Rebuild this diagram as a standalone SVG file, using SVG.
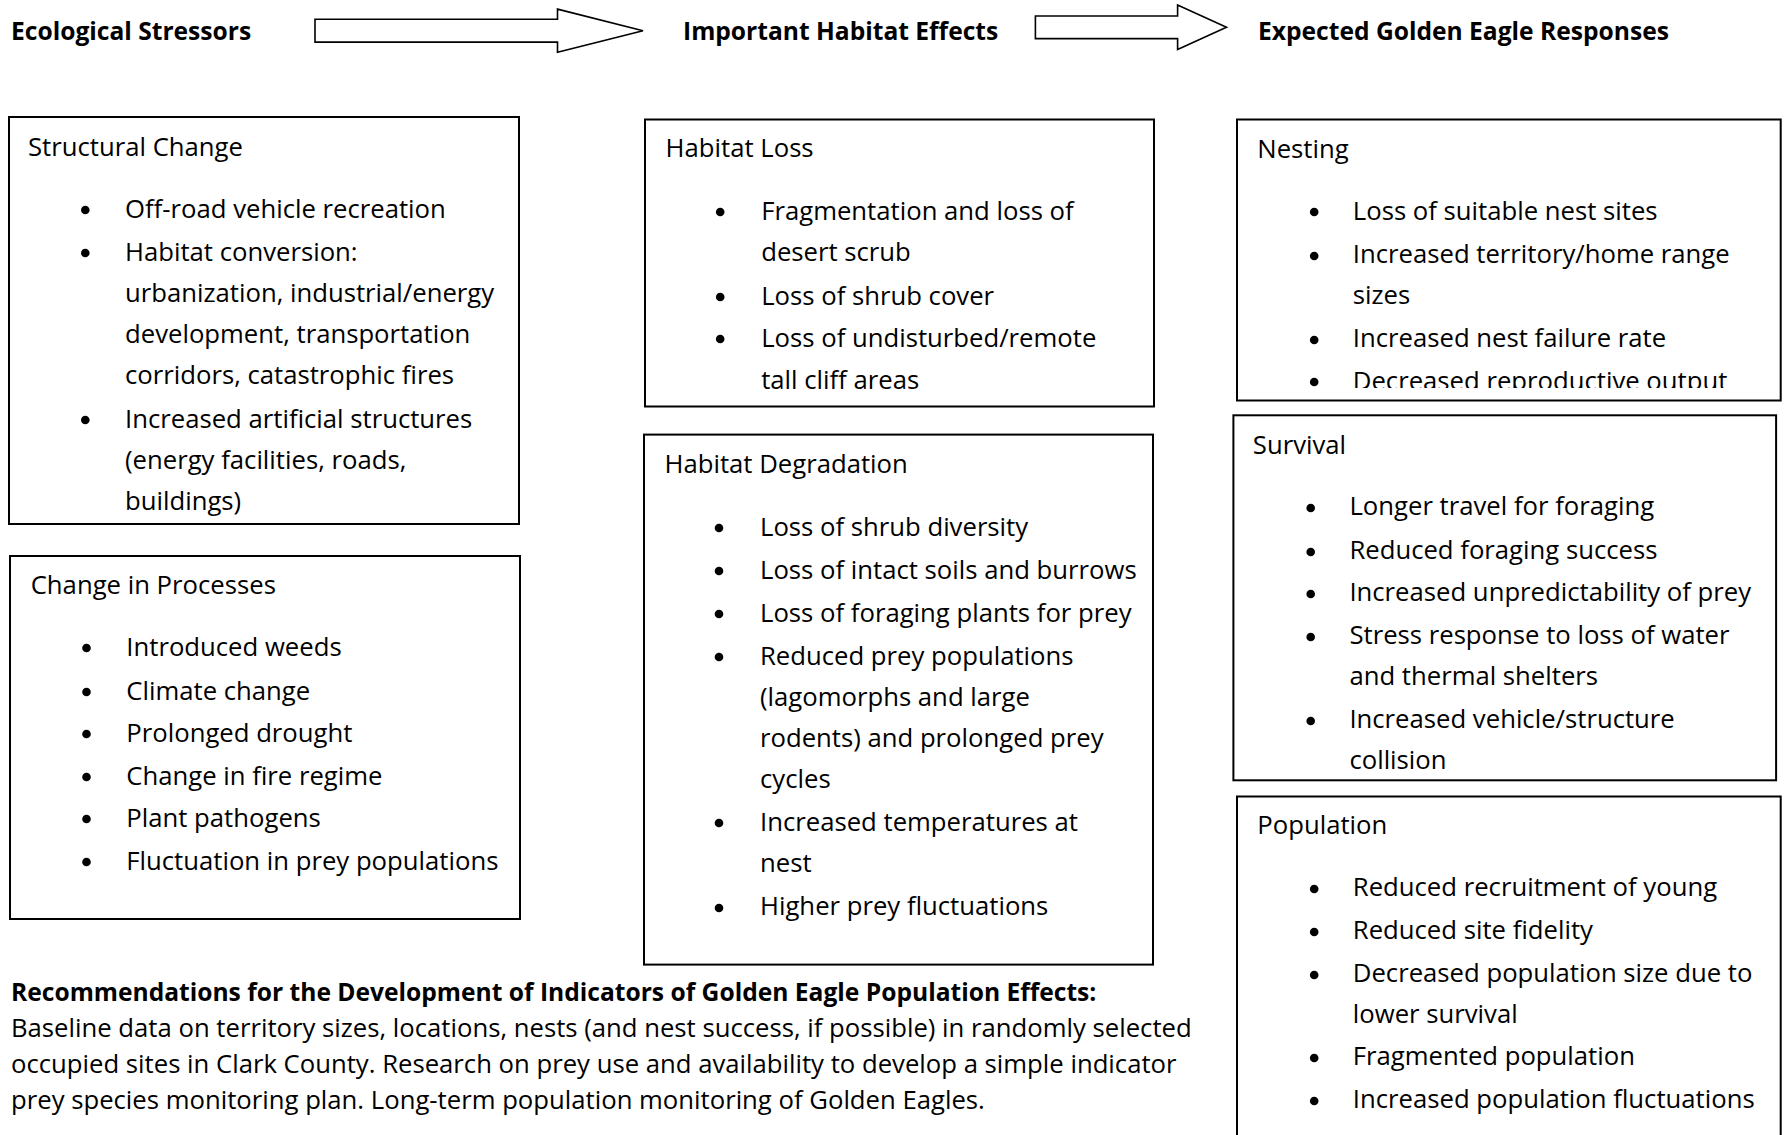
<svg xmlns="http://www.w3.org/2000/svg" width="1784" height="1135" viewBox="0 0 1784 1135">
<style>
.box{fill:#fff;stroke:#000;stroke-width:2}
.t{font-family:"Open Sans","Noto Sans",sans-serif;font-size:25.7px;fill:#000}
.h{font-family:"Open Sans","Noto Sans",sans-serif;font-size:24.6px;font-weight:bold;fill:#000}
.b{fill:#000}
.arrow{fill:#fff;stroke:#000;stroke-width:1.6;stroke-linejoin:miter}
</style>
<defs>
<clipPath id="nestClip"><rect x="1237" y="119" width="544" height="269"/></clipPath>
</defs>
<rect width="1784" height="1135" fill="#fff"/>

<g id="headers">
<text class="h" x="11" y="40">Ecological Stressors</text>
<text class="h" x="683" y="40">Important Habitat Effects</text>
<text class="h" x="1258" y="40">Expected Golden Eagle Responses</text>
</g>

<g id="connectors">
<polygon class="arrow" points="315,19.3 557.5,19.3 557.5,9.1 643,30.7 557.5,52.3 557.5,42.1 315,42.1"/>
<polygon class="arrow" points="1035.4,16 1177.6,16 1177.6,5 1226.5,27.3 1177.6,49.5 1177.6,38.6 1035.4,38.6"/>
</g>

<g id="structural-change">
<rect class="box" x="9" y="117" width="510" height="407"/>
<text class="t" x="28" y="156">Structural Change</text>
<circle class="b" cx="85.3" cy="210" r="4.3"/>
<circle class="b" cx="85.3" cy="253" r="4.3"/>
<circle class="b" cx="85.3" cy="420" r="4.3"/>
<text class="t" x="125" y="218">Off-road vehicle recreation</text>
<text class="t" x="125" y="261">Habitat conversion:</text>
<text class="t" x="125" y="302">urbanization, industrial/energy</text>
<text class="t" x="125" y="343">development, transportation</text>
<text class="t" x="125" y="384">corridors, catastrophic fires</text>
<text class="t" x="125" y="428">Increased artificial structures</text>
<text class="t" x="125" y="469">(energy facilities, roads,</text>
<text class="t" x="125" y="510">buildings)</text>
</g>

<g id="change-in-processes">
<rect class="box" x="10" y="556" width="510" height="363"/>
<text class="t" x="30.7" y="594">Change in Processes</text>
<circle class="b" cx="86.5" cy="648" r="4.3"/>
<circle class="b" cx="86.5" cy="692" r="4.3"/>
<circle class="b" cx="86.5" cy="734" r="4.3"/>
<circle class="b" cx="86.5" cy="777" r="4.3"/>
<circle class="b" cx="86.5" cy="819" r="4.3"/>
<circle class="b" cx="86.5" cy="862" r="4.3"/>
<text class="t" x="126.3" y="656">Introduced weeds</text>
<text class="t" x="126.3" y="700">Climate change</text>
<text class="t" x="126.3" y="742">Prolonged drought</text>
<text class="t" x="126.3" y="785">Change in fire regime</text>
<text class="t" x="126.3" y="827">Plant pathogens</text>
<text class="t" x="126.3" y="870">Fluctuation in prey populations</text>
</g>

<g id="habitat-loss">
<rect class="box" x="645" y="119.5" width="509" height="287"/>
<text class="t" x="665.6" y="157">Habitat Loss</text>
<circle class="b" cx="720.2" cy="212" r="4.3"/>
<circle class="b" cx="720.2" cy="297" r="4.3"/>
<circle class="b" cx="720.2" cy="339" r="4.3"/>
<text class="t" x="761.2" y="220">Fragmentation and loss of</text>
<text class="t" x="761.2" y="261">desert scrub</text>
<text class="t" x="761.2" y="305">Loss of shrub cover</text>
<text class="t" x="761.2" y="347">Loss of undisturbed/remote</text>
<text class="t" x="761.2" y="389">tall cliff areas</text>
</g>

<g id="habitat-degradation">
<rect class="box" x="644" y="434.6" width="509" height="530"/>
<text class="t" x="664.5" y="473">Habitat Degradation</text>
<circle class="b" cx="719" cy="528" r="4.3"/>
<circle class="b" cx="719" cy="571" r="4.3"/>
<circle class="b" cx="719" cy="614" r="4.3"/>
<circle class="b" cx="719" cy="657" r="4.3"/>
<circle class="b" cx="719" cy="823" r="4.3"/>
<circle class="b" cx="719" cy="908" r="4.3"/>
<text class="t" x="760" y="536">Loss of shrub diversity</text>
<text class="t" x="760" y="579">Loss of intact soils and burrows</text>
<text class="t" x="760" y="622">Loss of foraging plants for prey</text>
<text class="t" x="760" y="665">Reduced prey populations</text>
<text class="t" x="760" y="706">(lagomorphs and large</text>
<text class="t" x="760" y="747">rodents) and prolonged prey</text>
<text class="t" x="760" y="788">cycles</text>
<text class="t" x="760" y="831">Increased temperatures at</text>
<text class="t" x="760" y="872">nest</text>
<text class="t" x="760" y="915">Higher prey fluctuations</text>
</g>

<g id="nesting">
<rect class="box" x="1237" y="119.5" width="543.7" height="281"/>
<text class="t" x="1257.3" y="158">Nesting</text>
<circle class="b" cx="1314.2" cy="212" r="4.3"/>
<circle class="b" cx="1314.2" cy="256" r="4.3"/>
<circle class="b" cx="1314.2" cy="340" r="4.3"/>
<circle class="b" cx="1314.2" cy="382" r="4.3"/>
<text class="t" x="1352.8" y="220">Loss of suitable nest sites</text>
<text class="t" x="1352.8" y="263">Increased territory/home range</text>
<text class="t" x="1352.8" y="304">sizes</text>
<text class="t" x="1352.8" y="347">Increased nest failure rate</text>
<text class="t" x="1352.8" y="390" clip-path="url(#nestClip)">Decreased reproductive output</text>
</g>

<g id="survival">
<rect class="box" x="1233.4" y="415.3" width="542.7" height="365"/>
<text class="t" x="1252.8" y="454">Survival</text>
<circle class="b" cx="1310.7" cy="508" r="4.3"/>
<circle class="b" cx="1310.7" cy="552" r="4.3"/>
<circle class="b" cx="1310.7" cy="594" r="4.3"/>
<circle class="b" cx="1310.7" cy="637" r="4.3"/>
<circle class="b" cx="1310.7" cy="721" r="4.3"/>
<text class="t" x="1349.4" y="515">Longer travel for foraging</text>
<text class="t" x="1349.4" y="559">Reduced foraging success</text>
<text class="t" x="1349.4" y="601">Increased unpredictability of prey</text>
<text class="t" x="1349.4" y="644">Stress response to loss of water</text>
<text class="t" x="1349.4" y="685">and thermal shelters</text>
<text class="t" x="1349.4" y="728">Increased vehicle/structure</text>
<text class="t" x="1349.4" y="769">collision</text>
</g>

<g id="population">
<rect class="box" x="1237" y="796.5" width="543.7" height="360"/>
<text class="t" x="1257.3" y="834">Population</text>
<circle class="b" cx="1314.2" cy="889" r="4.3"/>
<circle class="b" cx="1314.2" cy="932" r="4.3"/>
<circle class="b" cx="1314.2" cy="975" r="4.3"/>
<circle class="b" cx="1314.2" cy="1058" r="4.3"/>
<circle class="b" cx="1314.2" cy="1101" r="4.3"/>
<text class="t" x="1352.8" y="896">Reduced recruitment of young</text>
<text class="t" x="1352.8" y="939">Reduced site fidelity</text>
<text class="t" x="1352.8" y="982">Decreased population size due to</text>
<text class="t" x="1352.8" y="1023">lower survival</text>
<text class="t" x="1352.8" y="1065">Fragmented population</text>
<text class="t" x="1352.8" y="1108">Increased population fluctuations</text>
</g>

<g id="recommendations">
<text class="h" x="11" y="1001">Recommendations for the Development of Indicators of Golden Eagle Population Effects:</text>
<text class="t" x="11" y="1037">Baseline data on territory sizes, locations, nests (and nest success, if possible) in randomly selected</text>
<text class="t" x="11" y="1073">occupied sites in Clark County. Research on prey use and availability to develop a simple indicator</text>
<text class="t" x="11" y="1109">prey species monitoring plan. Long-term population monitoring of Golden Eagles.</text>
</g>
</svg>
